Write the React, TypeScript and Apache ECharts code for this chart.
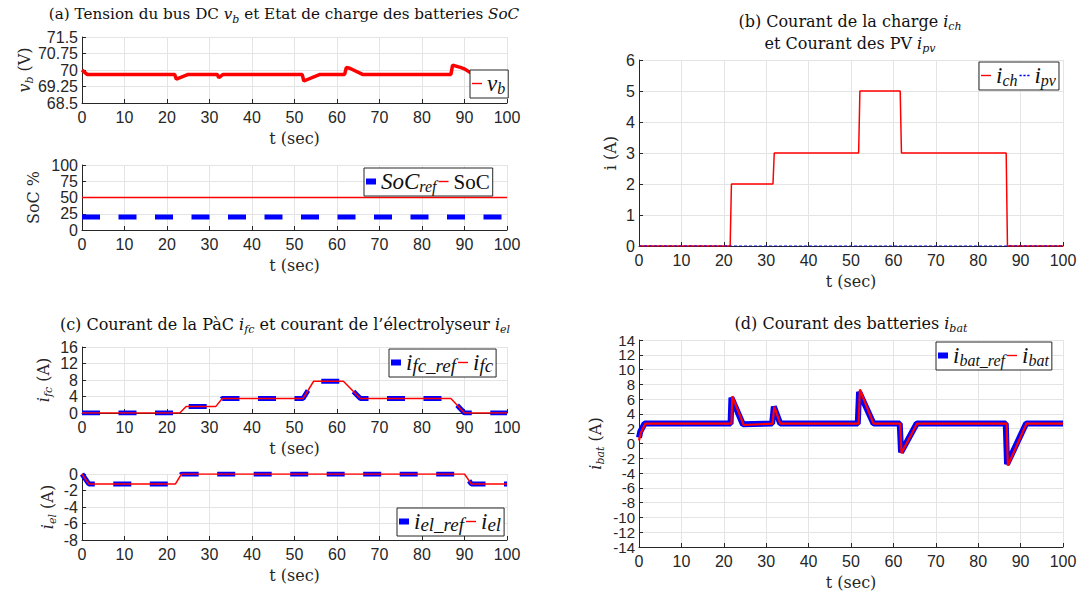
import React, { useEffect, useRef } from "react";
import * as echarts from "echarts";

// ---------- data ----------
const VB_TICKS = [68.5, 69.25, 70, 70.75, 71.5];
const IBAT_TICKS_A = [-14, -10, -6, -2, 2, 6, 10, 14];
const IBAT_TICKS_B = [-12, -8, -4, 0, 4, 8, 12];

const T_VB = [0, 0.3, 1.2, 21.8, 22.2, 25, 31.8, 32.2, 33.2, 51.8, 52.2, 56, 61.8, 62.2, 63, 66, 86.8, 87.2, 89, 90, 92, 100];
const VB = [70.0, 69.95, 69.8, 69.8, 69.58, 69.8, 69.8, 69.65, 69.8, 69.8, 69.5, 69.8, 69.8, 70.12, 70.08, 69.8, 69.8, 70.22, 70.12, 70.05, 69.8, 69.8];

const T_SOC = [0, 100];
const SOC_REF = [20, 20];
const SOC = [50, 50];

const T_IFC = [0, 23, 24.5, 31.5, 33, 52, 54.5, 61.5, 65.5, 86.8, 90, 100];
const IFC_REF = [0, 0, 1.6, 1.6, 3.5, 3.5, 7.7, 7.7, 3.5, 3.5, 0, 0];
const IFC = [0, 0, 1.6, 1.6, 3.5, 3.5, 7.7, 7.7, 3.5, 3.5, 0, 0];

const T_IEL = [0, 1.6, 22, 23.4, 90, 91.6, 100];
const IEL_REF = [0, -1.2, -1.2, 0, 0, -1.2, -1.2];
const IEL = [0, -1.2, -1.2, 0, 0, -1.2, -1.2];

const T_ICH = [0, 21.5, 21.8, 31.6, 31.9, 51.8, 52.1, 61.6, 61.9, 86.6, 86.9, 100];
const ICH = [0, 0, 2, 2, 3, 3, 5, 5, 3, 3, 0, 0];
const T_IPV = [0, 100];
const IPV = [0, 0];

const T_IBAT_REF = [0, 0.3, 1.3, 21.6, 21.8, 24.5, 31.4, 31.8, 33.3, 51.6, 51.9, 55.3, 61.5, 61.8, 65.5, 86.5, 86.8, 91.3, 100];
const IBAT_REF = [0.8, 1.6, 2.7, 2.7, 6.2, 2.6, 2.7, 5.0, 2.7, 2.7, 7.0, 2.7, 2.7, -1.2, 2.7, 2.7, -2.8, 2.7, 2.7];
const T_IBAT = [0, 0.4, 1.5, 21.8, 22.0, 24.7, 31.5, 31.9, 33.3, 51.8, 52.1, 55.3, 61.6, 61.9, 65.6, 86.7, 87.0, 91.4, 100];
const IBAT = [0.4, 1.4, 2.7, 2.7, 6.4, 2.5, 2.7, 5.0, 2.7, 2.7, 7.3, 2.7, 2.7, -1.3, 2.7, 2.7, -3.0, 2.7, 2.7];

// ---------- style ----------
const AX = "#262626";
const GRIDC = "#e4e4e4";
const RED = "#ff0000";
const BLUE = "#0000ff";
const SANS = "Liberation Sans";
const SERIF = "DejaVu Serif";
const LSERIF = "Liberation Serif";

const pairs = (t: number[], v: number[]) => t.map((x, i) => [x, v[i]]);

function trich(size: number): any {
  return {
    r: { fontFamily: SERIF, fontSize: size, color: "#111", lineHeight: 22 },
    i: { fontFamily: SERIF, fontStyle: "italic", fontSize: size, color: "#111", lineHeight: 22 },
    s: { fontFamily: SERIF, fontStyle: "italic", fontSize: 11, color: "#111", verticalAlign: "bottom", lineHeight: 14 },
  };
}

const NRICH: any = {
  r: { fontFamily: SERIF, fontSize: 16, color: AX, lineHeight: 22 },
  i: { fontFamily: SERIF, fontStyle: "italic", fontSize: 16, color: AX, lineHeight: 22 },
  s: { fontFamily: SERIF, fontStyle: "italic", fontSize: 11, color: AX, verticalAlign: "bottom", lineHeight: 14 },
};

const LRICH: any = {
  r: { fontFamily: LSERIF, fontSize: 21, color: "#111", lineHeight: 25 },
  i: { fontFamily: LSERIF, fontStyle: "italic", fontSize: 23, color: "#111", lineHeight: 25 },
  s: { fontFamily: LSERIF, fontStyle: "italic", fontSize: 16, color: "#111", verticalAlign: "bottom", lineHeight: 17 },
  w: { fontFamily: LSERIF, fontStyle: "italic", fontSize: 19, color: "#111", verticalAlign: "bottom", lineHeight: 19 },
};

const LEG_LABEL: Record<string, string> = {
  vb: "{i|v}{s|b}",
  SoCref: "{i|SoC}{s|ref}",
  SoC: "{r|SoC}",
  ifcref: "{i|i}{w|fc_ref}",
  ifc: "{i|i}{w|fc}",
  ielref: "{i|i}{w|el_ref}",
  iel: "{i|i}{w|el}",
  ich: "{i|i}{s|ch}",
  ipv: "{i|i}{s|pv}",
  ibatref: "{i|i}{s|bat_ref}",
  ibat: "{i|i}{s|bat}",
};

const ICON_THICK = "path://M0,0H10V6H0Z";
const ICON_THIN = "path://M0,0H10V1.4H0Z";
const ICON_DASH = "path://M0,0H2V1.4H0Z M3.5,0H5.5V1.4H3.5Z M7,0H9V1.4H7Z";

function xAxis(gridIndex: number) {
  return {
    type: "value",
    gridIndex,
    min: 0,
    max: 100,
    interval: 10,
    name: "t (sec)",
    nameLocation: "middle",
    nameGap: 27,
    nameMoveOverlap: false,
    nameTextStyle: { fontFamily: SERIF, fontSize: 16, color: AX },
    axisLine: { show: true, onZero: false, lineStyle: { color: AX, width: 1 } },
    axisTick: { show: true, inside: true, length: 4, lineStyle: { color: AX } },
    axisLabel: { fontFamily: SANS, fontSize: 16, color: AX, margin: 6, showMinLabel: true, showMaxLabel: true, hideOverlap: false },
    splitLine: { show: true, lineStyle: { color: GRIDC, width: 1 } },
  };
}

function yAxis(gridIndex: number, min: number, max: number, interval: number | null, name: string, nameGap: number, custom?: number[]) {
  const a: any = {
    type: "value",
    gridIndex,
    position: "left",
    offset: 0,
    min,
    max,
    name,
    nameLocation: "middle",
    nameRotate: 90,
    nameGap,
    nameMoveOverlap: false,
    nameTextStyle: { rich: NRICH, fontFamily: SERIF, fontSize: 16, color: AX },
    axisLine: { show: true, onZero: false, lineStyle: { color: AX, width: 1 } },
    axisTick: { show: true, inside: true, length: 4, lineStyle: { color: AX } },
    axisLabel: { fontFamily: SANS, fontSize: 16, lineHeight: 13, color: AX, margin: 4, showMinLabel: true, showMaxLabel: true, hideOverlap: false },
    splitLine: { show: true, lineStyle: { color: GRIDC, width: 1 } },
  };
  if (interval !== null) a.interval = interval;
  if (custom) {
    a.axisLabel.customValues = custom;
    a.axisTick.customValues = custom;
  }
  return a;
}

function legItem(name: string, icon: string, color: string) {
  return { name, icon, itemStyle: { color, borderWidth: 0 } };
}

function leg(items: any[], left: number, top: number) {
  return {
    show: true,
    data: items,
    left,
    top,
    orient: "horizontal",
    itemWidth: 10,
    itemHeight: 12,
    itemGap: 2,
    symbolKeepAspect: true,
    padding: [2, 3, 2, 2],
    borderColor: AX,
    borderWidth: 1,
    borderRadius: 0,
    backgroundColor: "#fff",
    selectedMode: false,
    formatter: (n: string) => LEG_LABEL[n],
    textStyle: { rich: LRICH, fontFamily: LSERIF, fontSize: 21, color: "#111" },
  };
}

function line(name: string, gi: number, t: number[], v: number[], color: string, width: number, type: any = "solid", z = 2) {
  return {
    name,
    type: "line",
    xAxisIndex: gi,
    yAxisIndex: gi,
    data: pairs(t, v),
    showSymbol: false,
    symbol: "none",
    z,
    lineStyle: { color, width, type },
    itemStyle: { color },
  };
}

function title(text: string, x: number, y: number, size = 16) {
  return {
    type: "text",
    x,
    y,
    z: 100,
    style: { text, rich: trich(size), align: "center", verticalAlign: "middle", textAlign: "center", textVerticalAlign: "middle", fill: "#111", fontFamily: SERIF, fontSize: size },
  };
}

export default function App() {
  const ref = useRef<HTMLDivElement>(null);
  useEffect(() => {
    document.body.style.margin = "0";
    const chart = echarts.init(ref.current!, null, { renderer: "svg" });
    const ybatA = yAxis(5, -14, 14, null, "{i|i}{s|bat}{r| (A)}", 33, IBAT_TICKS_A);
    ybatA.axisLabel.fontSize = 15;
    const ybatB = yAxis(5, -14, 14, null, "", 33, IBAT_TICKS_B);
    ybatB.axisLabel.fontSize = 15;
    ybatB.axisLine.show = false;
    const option: any = {
      animation: false,
      backgroundColor: "#fff",
      grid: [
        { left: 82, top: 37, width: 425, height: 66, containLabel: false, outerBoundsMode: "none" },
        { left: 82, top: 165, width: 425, height: 65, containLabel: false, outerBoundsMode: "none" },
        { left: 82, top: 347, width: 425, height: 66, containLabel: false, outerBoundsMode: "none" },
        { left: 82, top: 474, width: 425, height: 66, containLabel: false, outerBoundsMode: "none" },
        { left: 639, top: 60, width: 424, height: 186, containLabel: false, outerBoundsMode: "none" },
        { left: 639, top: 340, width: 424, height: 207, containLabel: false, outerBoundsMode: "none" },
      ],
      xAxis: [0, 1, 2, 3, 4, 5].map((i) => xAxis(i)),
      yAxis: [
        yAxis(0, 68.5, 71.5, null, "{i|v}{s|b}{r| (V)}", 47, VB_TICKS),
        yAxis(1, 0, 100, 25, "{r|SoC %}", 38),
        yAxis(2, 0, 16, 4, "{i|i}{s|fc}{r| (A)}", 28),
        yAxis(3, -8, 0, 2, "{i|i}{s|el}{r| (A)}", 24),
        yAxis(4, 0, 6, 1, "{r|i (A)}", 18),
        ybatA,
        ybatB,
      ],
      legend: [
        leg([legItem("vb", ICON_THIN, RED)], 470, 70),
        leg([legItem("SoCref", ICON_THICK, BLUE), legItem("SoC", ICON_THIN, RED)], 364, 168),
        leg([legItem("ifcref", ICON_THICK, BLUE), legItem("ifc", ICON_THIN, RED)], 389, 349),
        leg([legItem("ielref", ICON_THICK, BLUE), legItem("iel", ICON_THIN, RED)], 397, 508),
        leg([legItem("ich", ICON_THIN, RED), legItem("ipv", ICON_DASH, BLUE)], 979, 62),
        leg([legItem("ibatref", ICON_THICK, BLUE), legItem("ibat", ICON_THIN, RED)], 936, 342),
      ],
      series: [
        line("vb", 0, T_VB, VB, RED, 3.5),
        line("SoCref", 1, T_SOC, SOC_REF, BLUE, 5, [18, 18.5]),
        line("SoC", 1, T_SOC, SOC, RED, 1.5, "solid", 3),
        line("ifcref", 2, T_IFC, IFC_REF, BLUE, 5, [18, 18.5]),
        line("ifc", 2, T_IFC, IFC, RED, 1.5, "solid", 3),
        line("ielref", 3, T_IEL, IEL_REF, BLUE, 5, [18, 18.5]),
        line("iel", 3, T_IEL, IEL, RED, 1.5, "solid", 3),
        line("ich", 4, T_ICH, ICH, RED, 1.5),
        line("ipv", 4, T_IPV, IPV, BLUE, 1, [3, 2], 3),
        line("ibatref", 5, T_IBAT_REF, IBAT_REF, BLUE, 6),
        line("ibat", 5, T_IBAT, IBAT, RED, 2.2, "solid", 3),
      ],
      graphic: [
        title("{r|(a) Tension du bus DC }{i|v}{s|b}{r| et Etat de charge des batteries }{i|SoC}", 284, 14, 15.2),
        title("{r|(b) Courant de la charge }{i|i}{s|ch}", 850, 21),
        title("{r|et Courant des PV }{i|i}{s|pv}", 850, 43),
        title("{r|(c) Courant de la PàC }{i|i}{s|fc}{r| et courant de l’électrolyseur }{i|i}{s|el}", 285, 324),
        title("{r|(d) Courant des batteries }{i|i}{s|bat}", 851, 323),
      ],
    };
    chart.setOption(option);
    return () => chart.dispose();
  }, []);
  return <div ref={ref} style={{ position: "absolute", left: 0, top: 0, width: 1078, height: 598 }} />;
}
